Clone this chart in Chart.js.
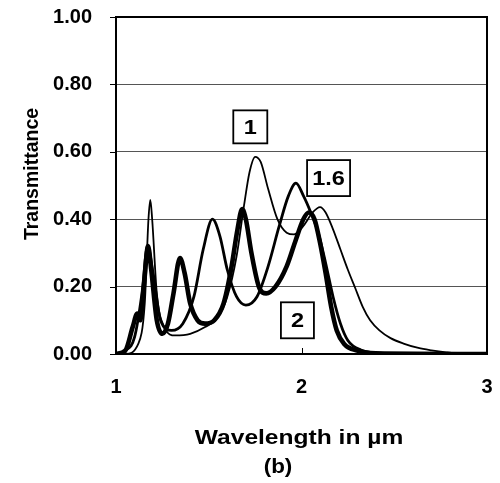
<!DOCTYPE html>
<html>
<head>
<meta charset="utf-8">
<script src="https://cdn.jsdelivr.net/npm/chart.js@4.4.0/dist/chart.umd.min.js"></script>
<style>
body { margin: 0; background: #fff; }
</style>
</head>
<body>
<canvas id="chart" width="500" height="483"></canvas>
<script>
// thickness 1 (thin line)
var wl1 = [1.00, 1.05, 1.12, 1.155, 1.175, 1.185, 1.195, 1.22, 1.26, 1.32, 1.40, 1.48, 1.55, 1.60, 1.65, 1.69, 1.72, 1.75, 1.78, 1.82, 1.87, 1.92, 1.96, 2.01, 2.06, 2.10, 2.13, 2.17, 2.21, 2.25, 2.29, 2.33, 2.37, 2.42, 2.48, 2.55, 2.63, 2.70, 2.78, 2.86, 3.00];
var tr1 = [0.00, 0.00, 0.03, 0.15, 0.40, 0.457, 0.40, 0.18, 0.08, 0.055, 0.06, 0.08, 0.11, 0.17, 0.29, 0.44, 0.54, 0.585, 0.57, 0.49, 0.40, 0.36, 0.355, 0.38, 0.42, 0.436, 0.42, 0.37, 0.31, 0.25, 0.195, 0.14, 0.10, 0.07, 0.047, 0.031, 0.018, 0.011, 0.005, 0.001, 0.00];

// thickness 1.6 (medium line)
var wl16 = [1.00, 1.05, 1.10, 1.14, 1.17, 1.20, 1.24, 1.30, 1.36, 1.42, 1.47, 1.52, 1.56, 1.60, 1.65, 1.70, 1.76, 1.82, 1.88, 1.93, 1.97, 2.01, 2.05, 2.09, 2.13, 2.17, 2.21, 2.25, 2.32, 2.45, 3.00];
var tr16 = [0.00, 0.01, 0.05, 0.18, 0.32, 0.24, 0.10, 0.07, 0.09, 0.17, 0.31, 0.40, 0.35, 0.25, 0.17, 0.145, 0.17, 0.26, 0.38, 0.47, 0.507, 0.47, 0.42, 0.36, 0.27, 0.17, 0.09, 0.04, 0.012, 0.002, 0.00];

// thickness 2 (thick line)
var wl2 = [1.00, 1.05, 1.09, 1.115, 1.13, 1.15, 1.173, 1.19, 1.22, 1.25, 1.28, 1.31, 1.345, 1.37, 1.40, 1.44, 1.48, 1.53, 1.58, 1.62, 1.655, 1.68, 1.70, 1.73, 1.77, 1.81, 1.86, 1.92, 1.97, 2.01, 2.04, 2.07, 2.10, 2.13, 2.16, 2.19, 2.23, 2.30, 2.40, 3.00];
var tr2 = [0.00, 0.01, 0.08, 0.12, 0.10, 0.20, 0.32, 0.25, 0.10, 0.06, 0.09, 0.18, 0.285, 0.24, 0.15, 0.10, 0.09, 0.10, 0.15, 0.25, 0.37, 0.43, 0.40, 0.30, 0.20, 0.18, 0.20, 0.26, 0.34, 0.40, 0.42, 0.40, 0.33, 0.24, 0.14, 0.07, 0.03, 0.01, 0.002, 0.00];

var seriesNames = ['1', '1.6', '2'];
var xTicks = [1, 2, 3];
var yTicks = [0, 0.2, 0.4, 0.6, 0.8, 1.0];

var FONT = '"Liberation Sans", Arial, sans-serif';

function toPoints(xs, ys) {
    var pts = [];
    for (let i = 0; i < xs.length; i++) {
        pts.push({ x: xs[i], y: ys[i] });
    }
    return pts;
}

function stretchText(ctx, text, x, y, size, sx) {
    ctx.save();
    ctx.translate(x, y);
    ctx.scale(sx, 1);
    ctx.font = 'bold ' + size + 'px ' + FONT;
    ctx.textAlign = 'center';
    ctx.textBaseline = 'middle';
    ctx.fillStyle = '#000';
    ctx.fillText(text, 0, 0);
    ctx.restore();
}

// frame, small tick marks, boxed curve labels and the axis titles
var decorPlugin = {
    id: 'decor',
    afterDraw: function (chart, args, opts) {
        var ctx = chart.ctx;
        var a = chart.chartArea;
        var xs = chart.scales.x;
        var ys = chart.scales.y;

        ctx.save();
        ctx.strokeStyle = '#000';
        ctx.lineWidth = 2;
        ctx.strokeRect(a.left, a.top, a.right - a.left, a.bottom - a.top);

        ctx.lineWidth = 1;
        for (let i = 0; i < xTicks.length; i++) {
            var px = Math.round(xs.getPixelForValue(xTicks[i])) + 0.5;
            ctx.beginPath();
            ctx.moveTo(px, a.bottom);
            ctx.lineTo(px, a.bottom - 6);
            ctx.stroke();
        }
        for (let i = 0; i < yTicks.length; i++) {
            var py = Math.round(ys.getPixelForValue(yTicks[i])) + 0.5;
            ctx.beginPath();
            ctx.moveTo(a.left, py);
            ctx.lineTo(a.left - 6, py);
            ctx.stroke();
        }

        for (let i = 0; i < opts.boxes.length; i++) {
            var b = opts.boxes[i];
            var cx = xs.getPixelForValue(b.x);
            var cy = ys.getPixelForValue(b.y);
            ctx.fillStyle = '#fff';
            ctx.fillRect(cx - b.w / 2, cy - b.h / 2, b.w, b.h);
            ctx.lineWidth = 1.8;
            ctx.strokeRect(cx - b.w / 2, cy - b.h / 2, b.w, b.h);
            stretchText(ctx, seriesNames[i], cx, cy + 1, 21, 1.12);
        }

        stretchText(ctx, 'Wavelength in \u00b5m', 299, 438, 21, 1.17);
        stretchText(ctx, '(b)', 278, 467, 20, 1.12);

        ctx.translate(33, 174);
        ctx.rotate(-Math.PI / 2);
        ctx.font = 'bold 19.5px ' + FONT;
        ctx.textAlign = 'center';
        ctx.textBaseline = 'middle';
        ctx.fillStyle = '#000';
        ctx.fillText('Transmittance', 0, 0);
        ctx.restore();
    }
};

var ctx = document.getElementById('chart').getContext('2d');
var chart = new Chart(ctx, {
    type: 'line',
    data: {
        datasets: [{
            label: seriesNames[0],
            data: toPoints(wl1, tr1),
            borderColor: '#000',
            borderWidth: 1.8
        }, {
            label: seriesNames[1],
            data: toPoints(wl16, tr16),
            borderColor: '#000',
            borderWidth: 2.8
        }, {
            label: seriesNames[2],
            data: toPoints(wl2, tr2),
            borderColor: '#000',
            borderWidth: 4.6
        }]
    },
    options: {
        responsive: false,
        animation: false,
        layout: { padding: { top: 17, right: 13, left: 0, bottom: 0 } },
        elements: {
            point: { radius: 0 },
            line: { cubicInterpolationMode: 'monotone', fill: false }
        },
        plugins: {
            legend: { display: false },
            tooltip: { enabled: false },
            decor: {
                boxes: [
                    { x: 1.724, y: 0.674, w: 34, h: 33 },
                    { x: 2.146, y: 0.522, w: 43, h: 36 },
                    { x: 1.978, y: 0.100, w: 33, h: 36 }
                ]
            }
        },
        scales: {
            x: {
                type: 'linear',
                min: 1,
                max: 3,
                afterBuildTicks: function (scale) {
                    scale.ticks = xTicks.map(function (v) { return { value: v }; });
                },
                afterFit: function (scale) { scale.height = 129; },
                grid: { drawOnChartArea: false, drawTicks: true, tickLength: 21, tickColor: 'rgba(0,0,0,0)' },
                border: { display: false },
                ticks: {
                    padding: 0,
                    color: '#000',
                    font: { family: FONT, size: 20, weight: 'bold' },
                    callback: function (v) { return v; }
                }
            },
            y: {
                type: 'linear',
                min: 0,
                max: 1,
                afterBuildTicks: function (scale) {
                    scale.ticks = yTicks.map(function (v) { return { value: v }; });
                },
                afterFit: function (scale) { scale.width = 116; },
                grid: { color: '#555', lineWidth: 1, drawTicks: true, tickLength: 24, tickColor: 'rgba(0,0,0,0)' },
                border: { display: false },
                ticks: {
                    padding: 0,
                    color: '#000',
                    font: { family: FONT, size: 20, weight: 'bold' },
                    callback: function (v) { return v.toFixed(2); }
                }
            }
        }
    },
    plugins: [decorPlugin]
});
</script>
</body>
</html>
